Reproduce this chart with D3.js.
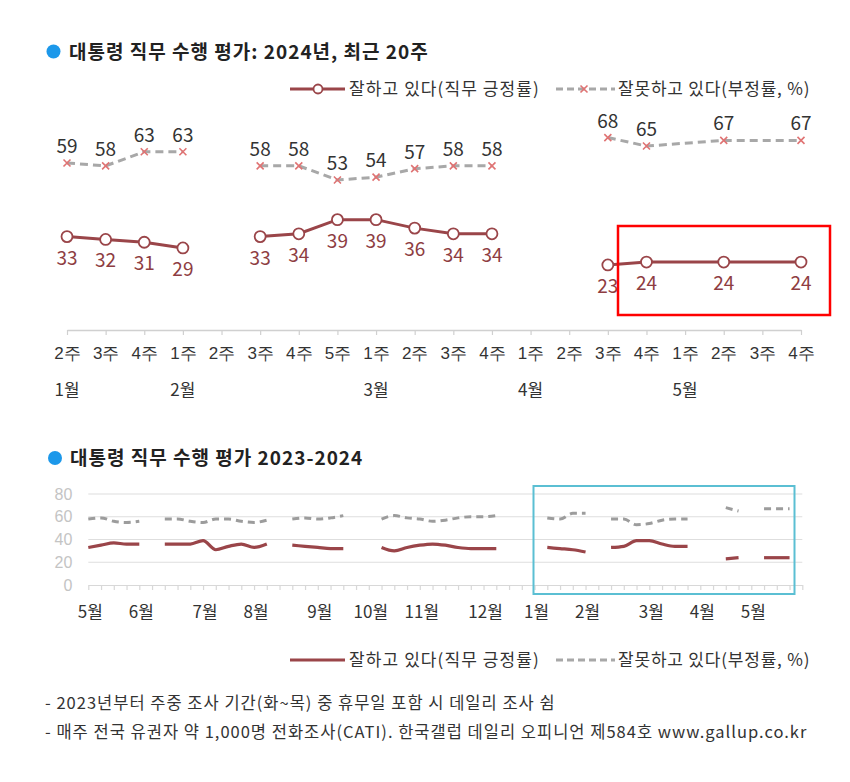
<!DOCTYPE html>
<html><head><meta charset="utf-8">
<script src="https://cdn.jsdelivr.net/npm/d3@7"></script>
<style>
html,body{margin:0;padding:0;background:#fff;}
svg{display:block;font-family:"Noto Sans CJK KR","Noto Sans",sans-serif;}
</style></head>
<body>
<svg id="chart" width="850" height="782"></svg>
<script>
// ---------- DATA ----------
const topTitle = "대통령 직무 수행 평가: 2024년, 최근 20주";
const topWeeks = ["2주","3주","4주","1주","2주","3주","4주","5주","1주","2주","3주","4주","1주","2주","3주","4주","1주","2주","3주","4주"];
const topMonthLabels = ["1월","2월","3월","4월","5월"];
const topMonthStart = [0,3,8,12,16];
const topApproval    = [33,32,31,29,null,33,34,39,39,36,34,34,null,null,23,24,null,24,null,24];
const topDisapproval = [59,58,63,63,null,58,58,53,54,57,58,58,null,null,68,65,null,67,null,67];
const topSegments = [[0,3],[5,11],[14,19]];

const bottomTitle = "대통령 직무 수행 평가 2023-2024";
const bottomMonthLabels = ["5월","6월","7월","8월","9월","10월","11월","12월","1월","2월","3월","4월","5월"];
const bottomMonthStart = [0,4,9,13,18,22,26,31,35,39,44,48,52];
const bottomApproval = [
  33,35,37,36,36, null,
  36,36,36,39,31,34,36,33,36, null,
  35,34,33,32,32, null,null,
  33,30,33,35,36,35,33,32,32,32, null,null,null,
  33,32,31,29, null,
  33,34,39,39,36,34,34, null,null,
  23,24, null, 24, null, 24];
const bottomDisapproval = [
  58,59,56,55,56, null,
  58,58,56,55,58,58,56,55,57, null,
  58,59,58,59,61, null,null,
  58,61,59,58,56,57,59,60,60,61, null,null,null,
  59,58,63,63, null,
  58,58,53,54,57,58,58, null,null,
  68,65, null, 67, null, 67];
const bottomSegments = [[0,4],[6,14],[16,20],[23,32],[36,39],[41,47],[50,51],[53,55]];
const bottomYTicks = [0,20,40,60,80];

const legendApproval = "잘하고 있다(직무 긍정률)";
const legendDisapproval = "잘못하고 있다(부정률, %)";
const footnotes = [
  "- 2023년부터 주중 조사 기간(화~목) 중 휴무일 포함 시 데일리 조사 쉼",
  "- 매주 전국 유권자 약 1,000명 전화조사(CATI). 한국갤럽 데일리 오피니언 제584호 www.gallup.co.kr"
];

// ---------- STYLE ----------
const C_APP = "#9a4549", C_APP_TXT = "#8e3d42", C_DIS = "#a8a8a8", C_X = "#e07373";
const C_TXT = "#333", C_BLUE = "#1c98ea";

const svg = d3.select("#chart");

function segData(values, segs){
  return segs.map(([a,b]) => d3.range(a,b+1).filter(i => values[i] != null).map(i => ({i, v: values[i]})));
}

// ---------- TITLE (top) ----------
svg.append("circle").attr("cx",53.5).attr("cy",51.5).attr("r",7).attr("fill",C_BLUE);
svg.append("text").attr("x",69).attr("y",59).attr("font-size",19).attr("font-weight",700)
  .attr("letter-spacing",1).attr("fill","#222").text(topTitle);

// ---------- LEGEND helper ----------
function legend(y, withMarkers){
  const g = svg.append("g");
  g.append("line").attr("x1",290).attr("x2",345).attr("y1",y).attr("y2",y)
    .attr("stroke",C_APP).attr("stroke-width",3);
  if(withMarkers) g.append("circle").attr("cx",318).attr("cy",y).attr("r",4.5)
    .attr("fill","#fff").attr("stroke",C_APP).attr("stroke-width",1.8);
  g.append("text").attr("x",349).attr("y",y+6).attr("font-size",17).attr("letter-spacing",1.1)
    .attr("fill",C_TXT).text(legendApproval);
  g.append("line").attr("x1",556).attr("x2",615).attr("y1",y).attr("y2",y)
    .attr("stroke",C_DIS).attr("stroke-width",3).attr("stroke-dasharray","7,4");
  if(withMarkers){
    const s=3.5, cx=584;
    g.append("path").attr("d",`M${cx-s},${y-s}L${cx+s},${y+s}M${cx-s},${y+s}L${cx+s},${y-s}`)
      .attr("stroke",C_X).attr("stroke-width",1.6);
  }
  g.append("text").attr("x",618).attr("y",y+6).attr("font-size",17).attr("letter-spacing",0.8)
    .attr("fill",C_TXT).text(legendDisapproval);
}
legend(89, true);

// ---------- TOP CHART ----------
const xT = d3.scaleLinear().domain([0,19]).range([67,801]);
const yT = d3.scaleLinear().domain([0,80]).range([330,103.6]);

const axT = svg.append("g").attr("transform","translate(0,330)")
  .call(d3.axisBottom(xT).tickValues(d3.range(20)).tickFormat(i => topWeeks[i]).tickSize(5).tickSizeOuter(0).tickPadding(12));
axT.select(".domain").attr("stroke","#d0d0d0").attr("stroke-width",1.5);
axT.selectAll(".tick line").attr("stroke","#d0d0d0").attr("stroke-width",1.2);
axT.selectAll(".tick text").attr("font-size",17).attr("fill",C_TXT).attr("font-family","inherit");

svg.append("g").selectAll("text").data(topMonthLabels).join("text")
  .attr("x",(d,k)=>xT(topMonthStart[k])).attr("y",396).attr("text-anchor","middle")
  .attr("font-size",17).attr("fill",C_TXT).text(d=>d);

const lineT = d3.line().x(d=>xT(d.i)).y(d=>yT(d.v));

// disapproval
const disSegT = segData(topDisapproval, topSegments);
svg.append("g").selectAll("path").data(disSegT).join("path")
  .attr("d",lineT).attr("fill","none").attr("stroke",C_DIS).attr("stroke-width",3)
  .attr("stroke-dasharray","8,5");
const disPtsT = disSegT.flat();
svg.append("g").selectAll("path").data(disPtsT).join("path")
  .attr("d",d=>{const x=xT(d.i), y=yT(d.v), s=3.5; return `M${x-s},${y-s}L${x+s},${y+s}M${x-s},${y+s}L${x+s},${y-s}`;})
  .attr("stroke",C_X).attr("stroke-width",1.6).attr("fill","none");
svg.append("g").selectAll("text").data(disPtsT).join("text")
  .attr("x",d=>xT(d.i)).attr("y",d=>yT(d.v)-10).attr("text-anchor","middle")
  .attr("font-size",19).attr("fill",C_TXT).text(d=>d.v);

// approval
const appSegT = segData(topApproval, topSegments);
svg.append("g").selectAll("path").data(appSegT).join("path")
  .attr("d",lineT).attr("fill","none").attr("stroke",C_APP).attr("stroke-width",3);
const appPtsT = appSegT.flat();
svg.append("g").selectAll("circle").data(appPtsT).join("circle")
  .attr("cx",d=>xT(d.i)).attr("cy",d=>yT(d.v)).attr("r",5.5)
  .attr("fill","#fff").attr("stroke",C_APP).attr("stroke-width",1.8);
svg.append("g").selectAll("text").data(appPtsT).join("text")
  .attr("x",d=>xT(d.i)).attr("y",d=>yT(d.v)+28).attr("text-anchor","middle")
  .attr("font-size",19).attr("fill",C_APP_TXT).text(d=>d.v);

// highlight box
svg.append("rect").attr("x",618).attr("y",226).attr("width",212).attr("height",89)
  .attr("fill","none").attr("stroke","#ff0000").attr("stroke-width",2.5);

// ---------- BOTTOM CHART ----------
svg.append("circle").attr("cx",55).attr("cy",458).attr("r",7).attr("fill",C_BLUE);
svg.append("text").attr("x",70).attr("y",465).attr("font-size",19).attr("font-weight",700)
  .attr("letter-spacing",1).attr("fill","#222").text(bottomTitle);

const xB = d3.scaleLinear().domain([0,56]).range([88.3,802.3]);
const yB = d3.scaleLinear().domain([0,80]).range([585,494]);

// gridlines
svg.append("g").selectAll("line").data(bottomYTicks.filter(v=>v>0)).join("line")
  .attr("x1",xB(0)).attr("x2",xB(56)).attr("y1",d=>yB(d)).attr("y2",d=>yB(d))
  .attr("stroke","#dedede").attr("stroke-width",1.2);

const ayB = svg.append("g").attr("transform",`translate(${xB(0)},0)`)
  .call(d3.axisLeft(yB).tickValues(bottomYTicks).tickSize(0).tickPadding(16));
ayB.select(".domain").remove();
ayB.selectAll(".tick text").attr("font-size",16).attr("fill","#c4c4c4").attr("font-family","inherit");

const axB = svg.append("g").attr("transform","translate(0,585)")
  .call(d3.axisBottom(xB).tickValues(d3.range(57)).tickFormat("").tickSize(5).tickSizeOuter(0));
axB.select(".domain").attr("stroke","#d8d8d8").attr("stroke-width",1.2);
axB.selectAll(".tick line").attr("stroke","#d8d8d8").attr("stroke-width",1.2);

svg.append("g").selectAll("text").data(bottomMonthLabels).join("text")
  .attr("x",(d,k)=>xB(bottomMonthStart[k])+2).attr("y",618).attr("text-anchor","middle")
  .attr("font-size",17).attr("fill",C_TXT).text(d=>d);

const lineB = d3.line().x(d=>xB(d.i)).y(d=>yB(d.v)).curve(d3.curveMonotoneX);
svg.append("g").selectAll("path").data(segData(bottomDisapproval,bottomSegments)).join("path")
  .attr("d",lineB).attr("fill","none").attr("stroke","#9c9c9c").attr("stroke-width",3)
  .attr("stroke-dasharray","7,5");
svg.append("g").selectAll("path").data(segData(bottomApproval,bottomSegments)).join("path")
  .attr("d",lineB).attr("fill","none").attr("stroke",C_APP).attr("stroke-width",3.2);

// highlight box (bottom)
svg.append("rect").attr("x",533.5).attr("y",486).attr("width",261).attr("height",108)
  .attr("fill","none").attr("stroke","#5bbfd3").attr("stroke-width",2);

// legend bottom
legend(660, false);

// footnotes
svg.append("g").selectAll("text").data(footnotes).join("text")
  .attr("x",45).attr("y",(d,k)=>709+k*29).attr("font-size",16.5).attr("letter-spacing",1)
  .attr("fill",C_TXT).text(d=>d);
</script>
</body></html>
